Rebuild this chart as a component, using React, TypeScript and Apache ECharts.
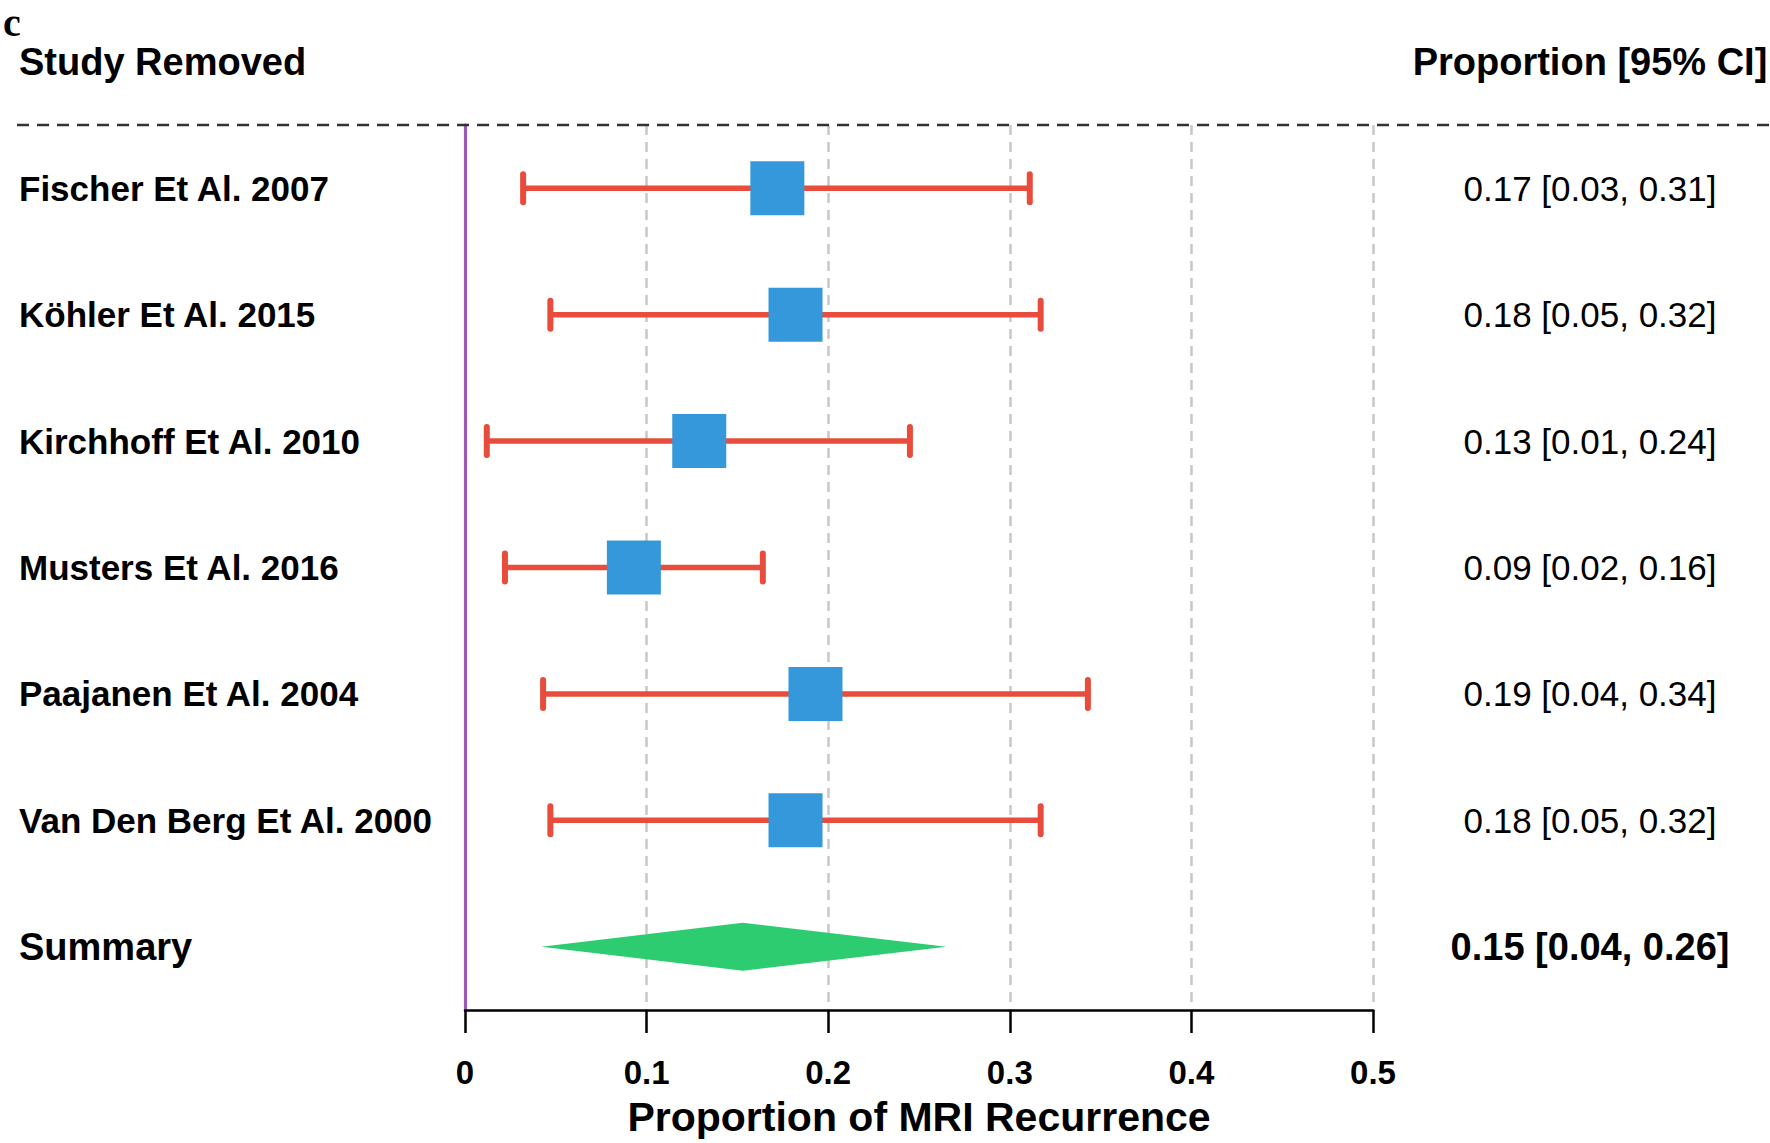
import React, { useEffect, useRef } from "react";
import * as echarts from "echarts";

const categories = [
  "Fischer Et Al. 2007",
  "Köhler Et Al. 2015",
  "Kirchhoff Et Al. 2010",
  "Musters Et Al. 2016",
  "Paajanen Et Al. 2004",
  "Van Den Berg Et Al. 2000",
  "Summary",
];
const estimates = [0.172, 0.182, 0.129, 0.093, 0.193, 0.182, 0.153];
const lowerCI = [0.032, 0.047, 0.012, 0.022, 0.043, 0.047, 0.042];
const upperCI = [0.311, 0.317, 0.245, 0.164, 0.343, 0.317, 0.265];
const ciLabels = [
  "0.17 [0.03, 0.31]",
  "0.18 [0.05, 0.32]",
  "0.13 [0.01, 0.24]",
  "0.09 [0.02, 0.16]",
  "0.19 [0.04, 0.34]",
  "0.18 [0.05, 0.32]",
  "0.15 [0.04, 0.26]",
];
const xMin = 0;
const xMax = 0.5;
const xInterval = 0.1;
const panelLabel = "c";
const leftHeader = "Study Removed";
const rightHeader = "Proportion [95% CI]";
const xTitle = "Proportion of MRI Recurrence";

const FONT = '"Liberation Sans", Arial, Helvetica, sans-serif';

export default function App() {
  const ref = useRef<HTMLDivElement>(null);

  useEffect(() => {
    if (!ref.current) return;
    const chart = echarts.init(ref.current, null, { renderer: "svg" });
    const summaryIdx = categories.length - 1;
    const studyIdx = categories.map((_, i) => i).filter((i) => i !== summaryIdx);

    const option: any = {
      animation: false,
      backgroundColor: "#ffffff",
      grid: {
        left: 465,
        right: 397,
        top: 125,
        bottom: 133,
        containLabel: false,
        outerBoundsMode: "none",
      },
      xAxis: {
        type: "value",
        min: xMin,
        max: xMax,
        interval: xInterval,
        name: xTitle,
        nameLocation: "middle",
        nameGap: 86,
        nameTextStyle: { fontFamily: FONT, fontWeight: "bold", fontSize: 41, color: "#000" },
        axisLine: { show: true, lineStyle: { color: "#000", width: 2.5 } },
        axisTick: { show: true, inside: false, length: 23, lineStyle: { color: "#000", width: 2.5 } },
        axisLabel: {
          margin: 46,
          fontFamily: FONT,
          fontWeight: "bold",
          fontSize: 33,
          color: "#000",
          formatter: (v: number) => String(Math.round(v * 10) / 10),
        },
        splitLine: {
          show: true,
          lineStyle: { color: "#c8c8c8", width: 2.5, type: [10, 7] },
        },
      },
      yAxis: [
        {
          type: "category",
          data: categories,
          inverse: true,
          position: "left",
          boundaryGap: true,
          axisLine: { show: true, onZero: false, lineStyle: { color: "#9b59b6", width: 3.2 } },
          axisTick: { show: false },
          splitLine: { show: false },
          axisLabel: {
            align: "left",
            margin: 446,
            fontFamily: FONT,
            color: "#000",
            formatter: (v: string, i: number) => (i === summaryIdx ? `{b|${v}}` : `{n|${v}}`),
            rich: {
              n: { fontFamily: FONT, fontSize: 35, fontWeight: "bold", color: "#000" },
              b: { fontFamily: FONT, fontSize: 38, fontWeight: "bold", color: "#000" },
            },
          },
        },
        {
          type: "category",
          data: ciLabels,
          inverse: true,
          position: "right",
          boundaryGap: true,
          axisLine: { show: false },
          axisTick: { show: false },
          splitLine: { show: false },
          axisLabel: {
            align: "center",
            margin: 217,
            fontFamily: FONT,
            color: "#000",
            formatter: (v: string, i: number) => (i === summaryIdx ? `{b|${v}}` : `{n|${v}}`),
            rich: {
              n: { fontFamily: FONT, fontSize: 35, fontWeight: "normal", color: "#000" },
              b: { fontFamily: FONT, fontSize: 38, fontWeight: "bold", color: "#000" },
            },
          },
        },
      ],
      series: [
        {
          type: "custom",
          name: "CI",
          xAxisIndex: 0,
          yAxisIndex: 0,
          encode: { x: [1, 2], y: 0 },
          data: studyIdx.map((i) => [i, lowerCI[i], upperCI[i]]),
          z: 3,
          renderItem: (params: any, api: any) => {
            const y = api.value(0);
            const lo = api.coord([api.value(1), y]);
            const hi = api.coord([api.value(2), y]);
            const style = { stroke: "#e74c3c", lineWidth: 6, lineCap: "round" };
            const h = 14;
            return {
              type: "group",
              children: [
                { type: "line", shape: { x1: lo[0], y1: lo[1], x2: hi[0], y2: hi[1] }, style: { stroke: "#e74c3c", lineWidth: 5.5 } },
                { type: "line", shape: { x1: lo[0], y1: lo[1] - h, x2: lo[0], y2: lo[1] + h }, style },
                { type: "line", shape: { x1: hi[0], y1: hi[1] - h, x2: hi[0], y2: hi[1] + h }, style },
              ],
            };
          },
        },
        {
          type: "scatter",
          name: "Estimate",
          xAxisIndex: 0,
          yAxisIndex: 0,
          symbol: "rect",
          symbolSize: [54, 54],
          itemStyle: { color: "#3498db", opacity: 1 },
          z: 4,
          data: studyIdx.map((i) => [estimates[i], i]),
        },
        {
          type: "custom",
          name: "Summary",
          xAxisIndex: 0,
          yAxisIndex: 0,
          encode: { x: [1, 2, 3], y: 0 },
          data: [[summaryIdx, lowerCI[summaryIdx], estimates[summaryIdx], upperCI[summaryIdx]]],
          z: 4,
          renderItem: (params: any, api: any) => {
            const y = api.value(0);
            const lo = api.coord([api.value(1), y]);
            const mid = api.coord([api.value(2), y]);
            const hi = api.coord([api.value(3), y]);
            const hh = 24;
            return {
              type: "polygon",
              shape: {
                points: [
                  [lo[0], lo[1]],
                  [mid[0], mid[1] - hh],
                  [hi[0], hi[1]],
                  [mid[0], mid[1] + hh],
                ],
              },
              style: { fill: "#2ecc71" },
            };
          },
        },
      ],
      graphic: [
        {
          type: "text",
          x: 3,
          y: 22,
          style: {
            text: panelLabel,
            fontFamily: '"Liberation Serif", "Times New Roman", serif',
            fontWeight: "bold",
            fontSize: 40,
            lineHeight: 40,
            fill: "#000",
            verticalAlign: "middle",
            align: "left",
          },
        },
        {
          type: "text",
          x: 19,
          y: 62,
          style: {
            text: leftHeader,
            fontFamily: FONT,
            fontWeight: "bold",
            fontSize: 38,
            fill: "#000",
            verticalAlign: "middle",
            align: "left",
          },
        },
        {
          type: "text",
          x: 1590,
          y: 62,
          style: {
            text: rightHeader,
            fontFamily: FONT,
            fontWeight: "bold",
            fontSize: 38,
            fill: "#000",
            verticalAlign: "middle",
            align: "center",
          },
        },
        {
          type: "line",
          z: 10,
          shape: { x1: 17, y1: 125, x2: 1770, y2: 125 },
          style: { stroke: "#333333", lineWidth: 2.5, lineDash: [12, 8] },
        },
      ],
    };

    chart.setOption(option);
    return () => {
      chart.dispose();
    };
  }, []);

  return (
    <div
      ref={ref}
      style={{ position: "absolute", left: 0, top: 0, width: 1770, height: 1143, background: "#fff" }}
    />
  );
}
